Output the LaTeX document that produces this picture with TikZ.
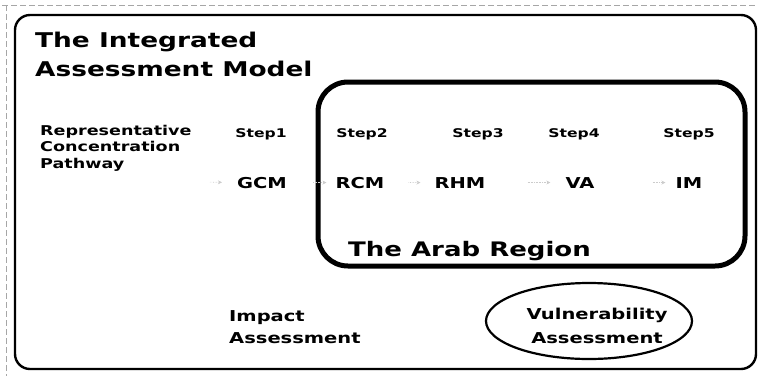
\documentclass[tikz,border=0pt]{standalone}
\usepackage{fontspec}
\usetikzlibrary{arrows.meta,shapes.geometric}
\newfontfamily\df[FakeStretch=1.3]{DejaVu Sans}
\begin{document}
\begin{tikzpicture}[x=1pt,y=-1pt,
  lbl/.style={inner sep=0pt,font=\df\bfseries},
  faint/.style={draw=gray!40,line width=0.6pt,densely dotted,-{Stealth[length=4pt,width=4pt]}},
  outerbox/.style={draw=black,line width=2.4pt,rounded corners=15pt},
  innerbox/.style={draw=black,line width=5pt,rounded corners=30pt},
  scanline/.style={draw=gray!70,line width=0.5pt,dash pattern=on 6pt off 3pt}]
\useasboundingbox (0,0) rectangle (758,376);
\draw[scanline] (2,5) -- (758,5);
\draw[scanline] (6,5) -- (6,376);
\draw[outerbox] (15,15) rectangle (756,369);
\draw[innerbox] (318,82) rectangle (745,266);
% title (base anchor = baseline of last line)
\node[lbl,anchor=base west,align=left,font=\df\bfseries\fontsize{20.3}{29}\selectfont] (title) at (35,76) {The Integrated\\Assessment Model};
\node[lbl,anchor=base west,align=left,font=\df\bfseries\fontsize{13.5}{16.5}\selectfont] (rcp) at (40,168) {Representative\\Concentration\\Pathway};
% steps
\foreach \n/\x/\t in {s1/261/Step1,s2/362/Step2,s3/478/Step3,s4/574/Step4,s5/689/Step5}
  \node[lbl,anchor=base,font=\df\bfseries\fontsize{12}{14}\selectfont] (\n) at (\x,137) {\t};
% models
\foreach \n/\x/\t in {gcm/262/GCM,rcm/360/RCM,rhm/460/RHM,va/580/VA,im/689/IM}
  \node[lbl,anchor=base,font=\df\bfseries\fontsize{15}{18}\selectfont] (\n) at (\x,188) {\t};
\coordinate (rcpend) at (200,182);
\draw[faint,shorten <=10pt,shorten >=15pt] (rcpend) -- (gcm.west);
\draw[faint,shorten <=26pt,shorten >=9pt] (gcm.east) -- (rcm.west);
\draw[faint,shorten <=24pt,shorten >=14pt] (rcm.east) -- (rhm.west);
\draw[faint,shorten <=42pt,shorten >=15pt] (rhm.east) -- (va.west);
\draw[faint,shorten <=58pt,shorten >=10pt] (va.east) -- (im.west);
\node[lbl,anchor=base west,font=\df\bfseries\fontsize{20}{24}\selectfont] (arab) at (348,256) {The Arab Region};
\node[lbl,anchor=base west,align=left,font=\df\bfseries\fontsize{15}{22}\selectfont] (impact) at (229,343) {Impact\\Assessment};
\node[draw=black,line width=2.2pt,ellipse,minimum width=206pt,minimum height=76pt,inner sep=0pt] (vae) at (589,321) {};
\node[lbl,anchor=base,align=center,font=\df\bfseries\fontsize{15}{24}\selectfont] (vat) at (597,343) {Vulnerability\\Assessment};
\end{tikzpicture}
\end{document}
